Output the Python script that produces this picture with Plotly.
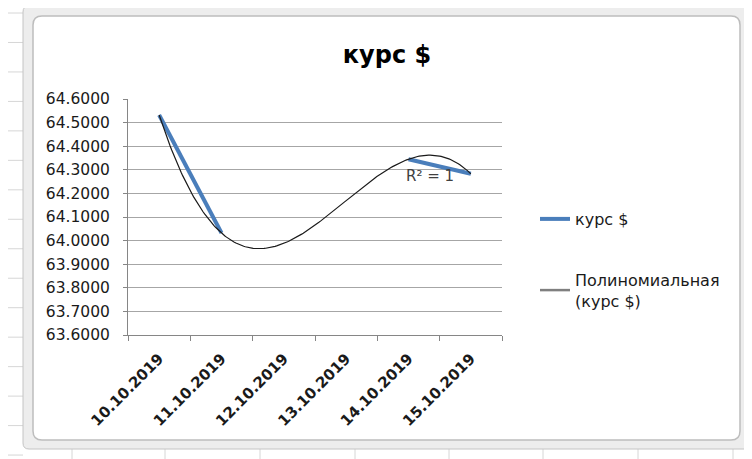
import numpy as np
import plotly.graph_objects as go

categories = ["10.10.2019", "11.10.2019", "12.10.2019", "13.10.2019", "14.10.2019", "15.10.2019"]
rate = [64.532, 64.032, None, None, 64.345, 64.283]
series_name = "курс $"
trend_name = "Полиномиальная<br>(курс $)"
title_text = "курс $"
y_ticks = [63.6, 63.7, 63.8, 63.9, 64.0, 64.1, 64.2, 64.3, 64.4, 64.5, 64.6]

xs = np.arange(1, len(categories) + 1)
known = [(x, v) for x, v in zip(xs, rate) if v is not None]
kx = np.array([k[0] for k in known], dtype=float)
ky = np.array([k[1] for k in known], dtype=float)
coef = np.polyfit(kx, ky, 3)
tx = np.linspace(1, len(categories), 200)
ty = np.polyval(coef, tx)

FONT = "DejaVu Sans"
OFF = 8  # page body margin
W, H = 752 - OFF, 459 - OFF
L, R, T, B = 128 - OFF, 502 - OFF, 99 - OFF, 335 - OFF


def px(xr):
    return (xr - OFF - L) / (R - L)


def py(yr):
    return (B - (yr - OFF)) / (B - T)


def rounded(x0, y0, x1, y1, r):
    rx = r / (R - L)
    ry = r / (B - T)
    a, b, c, d = px(x0), px(x1), py(y1), py(y0)  # left, right, bottom, top
    return (f"M{a+rx},{d} L{b-rx},{d} Q{b},{d} {b},{d-ry} L{b},{c+ry} "
            f"Q{b},{c} {b-rx},{c} L{a+rx},{c} Q{a},{c} {a},{c+ry} "
            f"L{a},{d-ry} Q{a},{d} {a+rx},{d} Z")


fig = go.Figure()
fig.add_trace(go.Scatter(x=xs, y=rate, mode="lines", name=series_name,
                         line=dict(color="#4a7ebb", width=4), connectgaps=False,
                         legendgroup="a"))
fig.add_trace(go.Scatter(x=tx, y=ty, mode="lines", name=trend_name,
                         line=dict(color="#1a1a1a", width=1.2),
                         legendgroup="b", showlegend=False))
# legend entry of the trendline (Excel draws its key thicker and grey)
fig.add_trace(go.Scatter(x=[None], y=[None], mode="lines", name=trend_name,
                         line=dict(color="#7f7f7f", width=2.5),
                         legendgroup="b", hoverinfo="skip"))

fig.add_annotation(x=5.35, y=64.274, text="R² = 1", showarrow=False,
                   font=dict(family=FONT, size=15, color="#404040"))

shapes = []
# spreadsheet grid behind the chart
for i in range(16):
    yy = 13 + i * 29.47
    shapes.append(dict(type="line", xref="paper", yref="paper",
                       x0=px(0), x1=px(23), y0=py(yy), y1=py(yy),
                       line=dict(color="#d6d6d6", width=1), layer="below"))
for xx in [72, 165, 260, 355, 449, 543, 638, 733]:
    shapes.append(dict(type="line", xref="paper", yref="paper",
                       x0=px(xx), x1=px(xx), y0=py(449), y1=py(459),
                       line=dict(color="#d6d6d6", width=1), layer="below"))
# chart frame
shapes.append(dict(type="path", xref="paper", yref="paper",
                   path=rounded(23, 6, 750, 449, 6),
                   fillcolor="#ededed", line=dict(color="#c4c4c4", width=1),
                   layer="below"))
shapes.append(dict(type="path", xref="paper", yref="paper",
                   path=rounded(33, 16, 740, 440, 9),
                   fillcolor="white", line=dict(color="#bdbdbd", width=1.5),
                   layer="below"))

fig.update_layout(
    width=W, height=H,
    margin=dict(l=L, r=W - R, t=T, b=H - B),
    paper_bgcolor="white", plot_bgcolor="rgba(0,0,0,0)",
    shapes=shapes,
    title=dict(text="<b>" + title_text + "</b>", xref="container", yref="container",
               x=(387 - OFF) / W, y=1 - (55 - OFF) / H, xanchor="center", yanchor="middle",
               font=dict(family=FONT, size=24, color="#000000")),
    xaxis=dict(range=[0.5, 6.5], tickvals=list(xs),
               ticktext=["<b>" + c + "</b>" for c in categories],
               tickangle=-45, ticks="", showgrid=False, zeroline=False,
               showline=True, linecolor="#868686", linewidth=1,
               ticklabelstandoff=8,
               tickfont=dict(family=FONT, size=15, color="#1a1a1a"),
               minor=dict(tickvals=[0.5, 1.5, 2.5, 3.5, 4.5, 5.5, 6.5],
                          ticks="outside", ticklen=5, tickcolor="#868686",
                          showgrid=False)),
    yaxis=dict(range=[63.6, 64.6], tickvals=y_ticks, tickformat=".4f",
               showgrid=True, gridcolor="#a6a6a6", gridwidth=1,
               zeroline=False, showline=True, linecolor="#868686",
               ticks="outside", ticklen=4, tickcolor="#868686",
               ticklabelstandoff=10,
               tickfont=dict(family=FONT, size=15.5, color="#1a1a1a")),
    legend=dict(x=px(535), y=py(202), xanchor="left", yanchor="top",
                traceorder="grouped", tracegroupgap=37,
                font=dict(family=FONT, size=16, color="#1a1a1a"),
                bgcolor="rgba(0,0,0,0)"),
    showlegend=True,
)

fig.write_html("out.html")
